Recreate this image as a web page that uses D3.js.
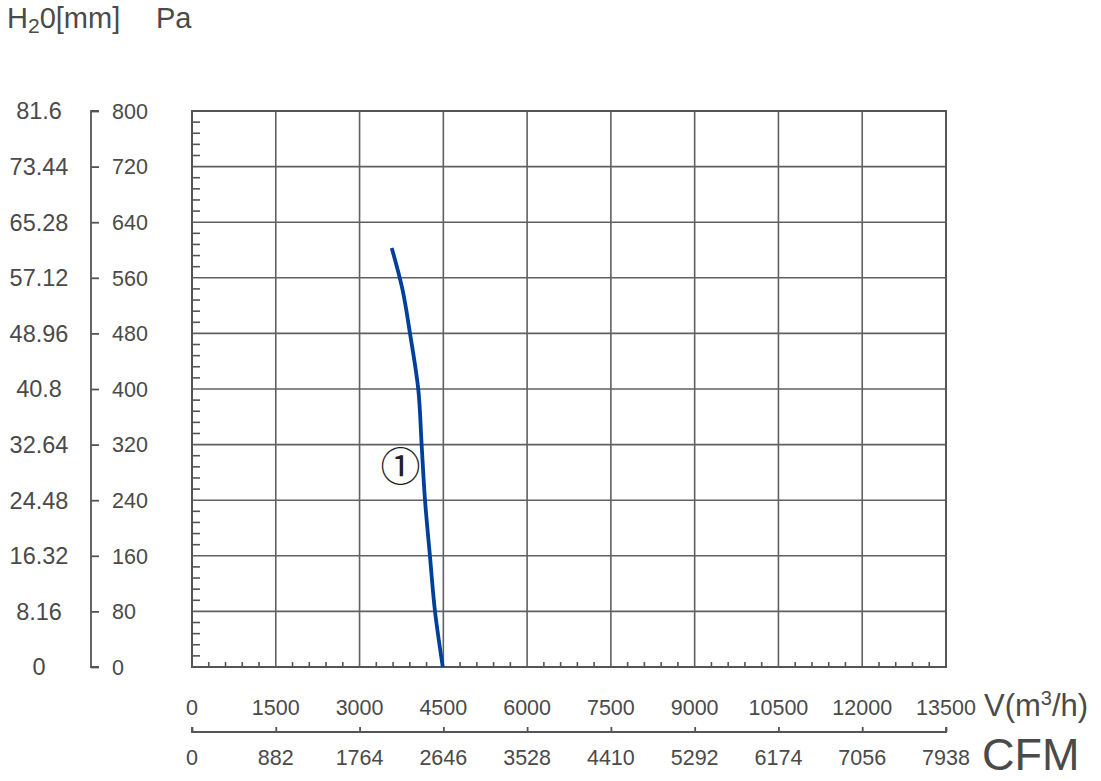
<!DOCTYPE html>
<html>
<head>
<meta charset="utf-8">
<script src="https://cdn.jsdelivr.net/npm/d3@7"></script>
<style>
  html, body { margin: 0; padding: 0; background: #fff; }
  svg { display: block; font-family: "Liberation Sans", Arial, sans-serif; }
</style>
</head>
<body>
<svg id="chart" width="1101" height="781"></svg>
<script>
// ---- data ----
const flowTicks = [0, 1500, 3000, 4500, 6000, 7500, 9000, 10500, 12000, 13500];
const cfmLabels = ["0", "882", "1764", "2646", "3528", "4410", "5292", "6174", "7056", "7938"];
const paTicks = [0, 80, 160, 240, 320, 400, 480, 560, 640, 720, 800];
const mmLabels = ["0", "8.16", "16.32", "24.48", "32.64", "40.8", "48.96", "57.12", "65.28", "73.44", "81.6"];
const curveFlow = [3576, 3772, 3903, 4052, 4112, 4172, 4261, 4351, 4490];
const curvePressure = [603, 542, 480, 399, 319, 240, 159, 80, 0];
const curveLabel = "①";

// ---- layout ----
const svg = d3.select("#chart");
const x = d3.scaleLinear().domain([0, 13500]).range([192, 946]);
const y = d3.scaleLinear().domain([0, 800]).range([667, 111]);
const textColor = "#4a4a4a";
const gridColor = "#606060";

// grid
const grid = svg.append("g");
grid.selectAll("line.v").data(flowTicks).join("line")
  .attr("x1", d => x(d)).attr("x2", d => x(d))
  .attr("y1", y(0)).attr("y2", y(800))
  .attr("stroke", gridColor).attr("stroke-width", 1.6);
grid.selectAll("line.h").data(paTicks).join("line")
  .attr("x1", x(0)).attr("x2", x(13500))
  .attr("y1", d => y(d)).attr("y2", d => y(d))
  .attr("stroke", gridColor).attr("stroke-width", 1.6);

// frame
svg.append("rect")
  .attr("x", x(0)).attr("y", y(800))
  .attr("width", x(13500) - x(0)).attr("height", y(0) - y(800))
  .attr("fill", "none").attr("stroke", "#555").attr("stroke-width", 2);

// minor ticks left (inside)
const yMinor = d3.range(0, 800, 16).filter(v => v % 80 !== 0);
svg.append("g").selectAll("line").data(yMinor).join("line")
  .attr("x1", x(0)).attr("x2", x(0) + 8)
  .attr("y1", d => y(d)).attr("y2", d => y(d))
  .attr("stroke", "#555").attr("stroke-width", 1.6);
// minor ticks bottom (inside)
const xMinor = d3.range(0, 13500, 300).filter(v => v % 1500 !== 0);
svg.append("g").selectAll("line").data(xMinor).join("line")
  .attr("x1", d => x(d)).attr("x2", d => x(d))
  .attr("y1", y(0)).attr("y2", y(0) - 5)
  .attr("stroke", "#555").attr("stroke-width", 1.6);

// left secondary axis (Pa)
const leftAxis = d3.axisRight(y).tickValues(paTicks).tickSize(8).tickFormat("");
const la = svg.append("g").attr("transform", "translate(91,0)").call(leftAxis);
la.select(".domain").attr("d", `M8,${y(800)}H0V${y(0)}H8`).attr("stroke", "#555").attr("stroke-width", 1.8);
la.selectAll(".tick line").attr("stroke", "#555").attr("stroke-width", 1.8);

// Pa labels
svg.append("g").selectAll("text").data(paTicks).join("text")
  .attr("x", 112).attr("y", d => y(d)).attr("dy", "0.36em")
  .attr("font-size", 21.5).attr("fill", textColor)
  .text(d => d);
// mm labels
svg.append("g").selectAll("text").data(paTicks).join("text")
  .attr("x", 39).attr("y", d => y(d)).attr("dy", "0.36em")
  .attr("text-anchor", "middle")
  .attr("font-size", 23.5).attr("fill", textColor)
  .text((d, i) => mmLabels[i]);

// flow labels
svg.append("g").selectAll("text").data(flowTicks).join("text")
  .attr("x", d => x(d)).attr("y", 707).attr("dy", "0.36em")
  .attr("text-anchor", "middle")
  .attr("font-size", 21.5).attr("fill", textColor)
  .text(d => d);

// CFM axis
const cfmAxis = d3.axisTop(x).tickValues(flowTicks).tickSize(5).tickFormat("");
const ca = svg.append("g").attr("transform", "translate(0,732)").call(cfmAxis);
ca.select(".domain").attr("d", `M${x(0)},-5V0H${x(13500)}V-5`).attr("stroke", "#555").attr("stroke-width", 1.8);
ca.selectAll(".tick line").attr("stroke", "#555").attr("stroke-width", 1.8);
svg.append("g").selectAll("text").data(flowTicks).join("text")
  .attr("x", d => x(d)).attr("y", 757).attr("dy", "0.36em")
  .attr("text-anchor", "middle")
  .attr("font-size", 21.5).attr("fill", textColor)
  .text((d, i) => cfmLabels[i]);

// unit labels
const vt = svg.append("text").attr("x", 984).attr("y", 716)
  .attr("font-size", 31).attr("fill", textColor);
vt.append("tspan").text("V(m");
vt.append("tspan").attr("font-size", 20).attr("dy", -11).text("3");
vt.append("tspan").attr("dy", 11).text("/h)");
svg.append("text").attr("x", 982).attr("y", 770)
  .attr("font-size", 45).attr("fill", textColor).text("CFM");

// title
const tt = svg.append("text").attr("x", 7).attr("y", 28)
  .attr("font-size", 29).attr("fill", textColor);
tt.append("tspan").text("H");
tt.append("tspan").attr("font-size", 21).attr("dy", 5).text("2");
tt.append("tspan").attr("dy", -5).text("0[mm]");
svg.append("text").attr("x", 156).attr("y", 28)
  .attr("font-size", 29).attr("fill", textColor).text("Pa");

// curve
const pts = curveFlow.map((f, i) => [f, curvePressure[i]]);
svg.append("path").datum(pts)
  .attr("d", d3.line().x(d => x(d[0])).y(d => y(d[1])).curve(d3.curveCatmullRom.alpha(0.5)))
  .attr("fill", "none").attr("stroke", "#00409a").attr("stroke-width", 3.8);

// curve label
svg.append("text").attr("x", x(3735)).attr("y", y(288)).attr("dy", "0.35em")
  .attr("text-anchor", "middle")
  .attr("font-family", "'DejaVu Serif', 'Noto Sans CJK JP', serif")
  .attr("font-size", 40).attr("fill", "#222").text(curveLabel);
</script>
</body>
</html>
